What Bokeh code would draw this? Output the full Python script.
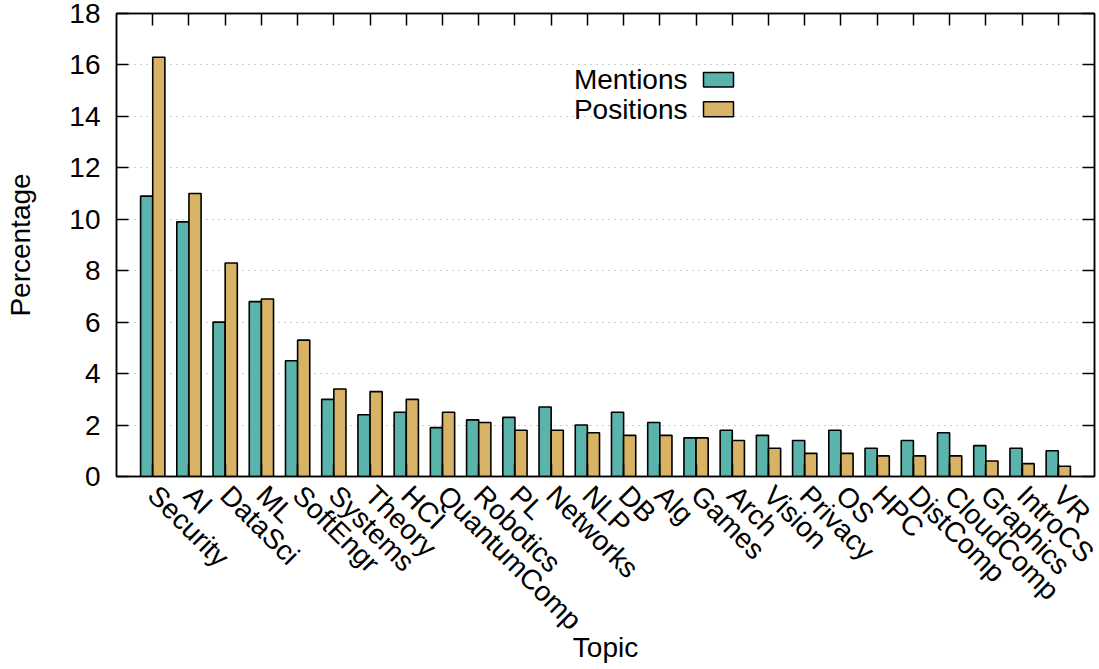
import math
from bokeh.plotting import figure
from bokeh.models import (ColumnDataSource, FixedTicker, LinearAxis, Range1d,
                          Label, BoxAnnotation)
from bokeh.transform import dodge
from bokeh.embed import file_html
from bokeh.resources import INLINE

topics = ["Security", "AI", "DataSci", "ML", "SoftEngr", "Systems", "Theory", "HCI",
          "QuantumComp", "Robotics", "PL", "Networks", "NLP", "DB", "Alg", "Games",
          "Arch", "Vision", "Privacy", "OS", "HPC", "DistComp", "CloudComp",
          "Graphics", "IntroCS", "VR"]
mentions = [10.9, 9.9, 6.0, 6.8, 4.5, 3.0, 2.4, 2.5, 1.9, 2.2, 2.3, 2.7, 2.0, 2.5,
            2.1, 1.5, 1.8, 1.6, 1.4, 1.8, 1.1, 1.4, 1.7, 1.2, 1.1, 1.0]
positions = [16.3, 11.0, 8.3, 6.9, 5.3, 3.4, 3.3, 3.0, 2.5, 2.1, 1.8, 1.8, 1.7, 1.6,
             1.6, 1.5, 1.4, 1.1, 0.9, 0.9, 0.8, 0.8, 0.8, 0.6, 0.5, 0.4]
series_names = ["Mentions", "Positions"]
colors = ["#5ab4ac", "#d8b365"]
y_ticks = [0, 2, 4, 6, 8, 10, 12, 14, 16, 18]

FONT = "Liberation Sans"
FS = "28px"

idx = list(range(len(topics)))
src = ColumnDataSource(dict(x=idx, topic=topics, mentions=mentions, positions=positions))

p = figure(width=1099, height=667, output_backend="svg", toolbar_location=None,
           x_range=Range1d(-1, len(topics)), y_range=Range1d(0, 18),
           frame_width=978, frame_height=463,
           min_border_left=116, min_border_top=13, min_border_right=5,
           min_border_bottom=10)

bw = 0.335
p.vbar(x=dodge("x", -bw / 2, range=p.x_range), top="mentions", width=bw, source=src,
       fill_color=colors[0], line_color="black", line_width=1.6)
p.vbar(x=dodge("x", bw / 2, range=p.x_range), top="positions", width=bw, source=src,
       fill_color=colors[1], line_color="black", line_width=1.6)

xt = FixedTicker(ticks=idx)
yt = FixedTicker(ticks=y_ticks)

p.xaxis.ticker = xt
p.xaxis.major_label_overrides = {i: t for i, t in zip(idx, topics)}
p.xaxis.major_label_orientation = -math.pi / 4
p.yaxis.ticker = yt

for ax in (p.xaxis[0], p.yaxis[0]):
    ax.major_label_text_font = FONT
    ax.major_label_text_font_size = FS
    ax.major_label_text_color = "black"
    ax.axis_label_text_font = FONT
    ax.axis_label_text_font_size = FS
    ax.axis_label_text_font_style = "normal"
    ax.axis_label_text_color = "black"
    ax.major_tick_in = 12
    ax.major_tick_out = 0
    ax.minor_tick_line_color = None
    ax.axis_line_color = "black"
    ax.axis_line_width = 1.5
    ax.major_tick_line_color = "black"
    ax.major_tick_line_width = 1.5

p.xaxis.axis_label = "Topic"
p.yaxis.axis_label = "Percentage"
p.xaxis.major_label_standoff = 14
p.yaxis.major_label_standoff = 16
p.yaxis.axis_label_standoff = 30
p.xaxis.axis_label_standoff = -18

top = LinearAxis(ticker=xt, major_label_text_font_size="0px", major_tick_in=12,
                 major_tick_out=0, minor_tick_line_color=None,
                 axis_line_color="black", axis_line_width=1.5,
                 major_tick_line_width=1.5, major_label_standoff=0)
right = LinearAxis(ticker=yt, major_label_text_font_size="0px", major_tick_in=12,
                   major_tick_out=0, minor_tick_line_color=None,
                   axis_line_color="black", axis_line_width=1.5,
                   major_tick_line_width=1.5, major_label_standoff=0)
p.add_layout(top, "above")
p.add_layout(right, "right")

p.xgrid.grid_line_color = None
p.ygrid.ticker = yt
p.ygrid.grid_line_color = "#999999"
p.ygrid.grid_line_dash = "1 5"
p.ygrid.grid_line_width = 1

p.outline_line_color = "black"
p.outline_line_width = 1.5
p.background_fill_color = "white"
p.border_fill_color = "white"

# legend (gnuplot style: text left, swatch right)
legend_rows = [(396.7, 389.4, 404.0), (367.0, 359.7, 374.7)]
for name, col, (ty, bb, bt) in zip(series_names, colors, legend_rows):
    p.add_layout(Label(x=571, y=ty, x_units="screen", y_units="screen", text=name,
                       text_align="right", text_baseline="middle",
                       text_font=FONT, text_font_size=FS, text_color="black"))
    p.add_layout(BoxAnnotation(left=587, right=617, bottom=bb, top=bt,
                               left_units="screen", right_units="screen",
                               bottom_units="screen", top_units="screen",
                               fill_color=col, fill_alpha=1.0,
                               line_color="black", line_width=1.5, line_alpha=1.0))

open("out.html", "w").write(file_html(p, INLINE))
